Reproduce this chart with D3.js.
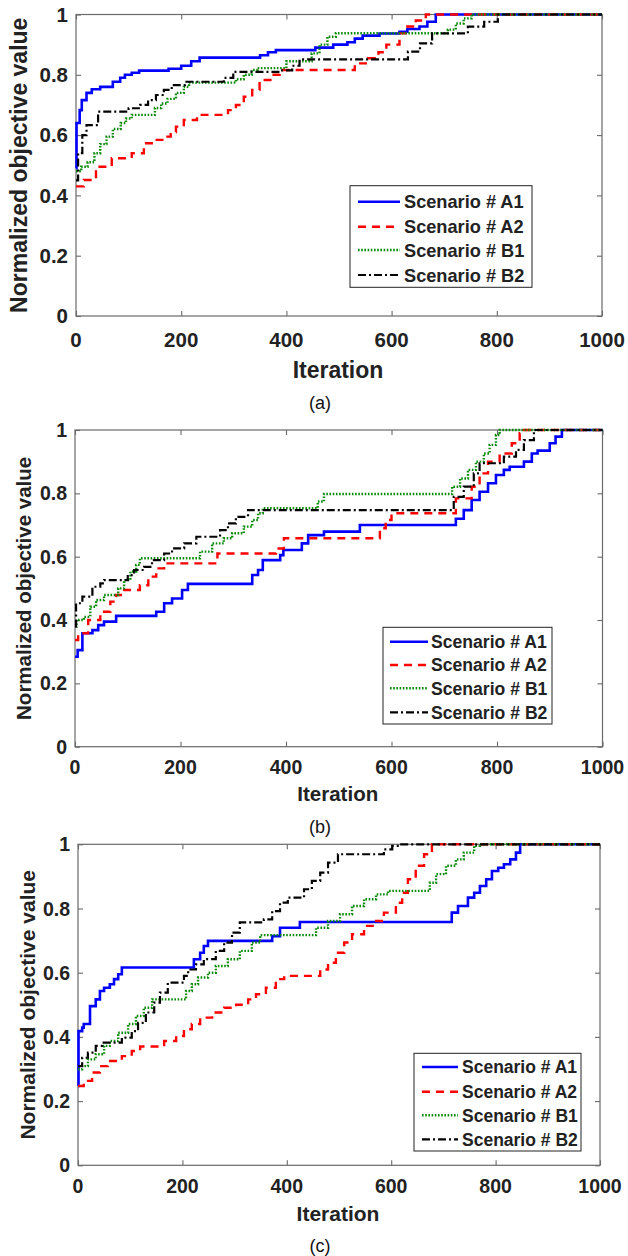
<!DOCTYPE html>
<html>
<head>
<meta charset="utf-8">
<script src="https://cdn.jsdelivr.net/npm/d3@7"></script>
<style>
  html, body { margin: 0; padding: 0; background: #fff; }
  svg { display: block; }
  text { font-family: "Liberation Sans", Arial, sans-serif; }
</style>
</head>
<body>
<svg id="fig" width="628" height="1256"></svg>
<script>
// ---- shared axis content ----
const xTicks = [0, 200, 400, 600, 800, 1000];
const yTicks = [0, 0.2, 0.4, 0.6, 0.8, 1];
const yTickLabels = ["0", "0.2", "0.4", "0.6", "0.8", "1"];
const seriesNames = ["Scenario # A1", "Scenario # A2", "Scenario # B1", "Scenario # B2"];
const captions = ["(a)", "(b)", "(c)"];

// ---- (a) best-so-far normalized objective, [iteration, value] ----
const a_A1 = [[0,0.49],[1,0.64],[7,0.683],[11,0.716],[20,0.74],[30,0.752],[46,0.76],[70,0.777],[84,0.79],[93,0.8],[106,0.807],[120,0.814],[176,0.82],[200,0.83],[219,0.845],[235,0.857],[350,0.865],[365,0.875],[380,0.882],[455,0.89],[489,0.9],[516,0.908],[530,0.92],[545,0.93],[577,0.937],[615,0.943],[630,0.952],[653,0.96],[668,0.976],[684,1.0],[1000,1.0]];
const a_A2 = [[0,0.43],[15,0.451],[38,0.495],[68,0.523],[106,0.54],[129,0.573],[144,0.584],[167,0.595],[180,0.61],[190,0.628],[205,0.65],[230,0.667],[289,0.683],[304,0.7],[319,0.727],[335,0.75],[349,0.783],[372,0.8],[387,0.816],[530,0.838],[555,0.855],[575,0.875],[590,0.9],[615,0.9375],[630,0.96],[646,0.98],[665,1.0],[1000,1.0]];
const a_B1 = [[0,0.48],[10,0.495],[22,0.51],[35,0.54],[46,0.57],[58,0.595],[70,0.62],[85,0.64],[95,0.655],[106,0.667],[150,0.69],[162,0.705],[174,0.72],[190,0.74],[205,0.76],[215,0.774],[304,0.785],[319,0.8],[334,0.816],[345,0.822],[400,0.845],[448,0.871],[463,0.9],[478,0.926],[494,0.938],[707,0.95],[722,0.97],[737,0.987],[752,1.0],[1000,1.0]];
const a_B2 = [[0,0.45],[4,0.54],[12,0.6],[20,0.633],[42,0.678],[100,0.689],[122,0.7],[137,0.716],[152,0.733],[167,0.75],[182,0.766],[207,0.777],[281,0.79],[299,0.81],[388,0.815],[411,0.83],[425,0.851],[631,0.877],[654,0.904],[677,0.9375],[745,0.96],[776,0.976],[802,1.0],[1000,1.0]];

// ---- (b) ----
const b_A1 = [[0,0.284],[5,0.305],[14,0.358],[33,0.368],[44,0.384],[55,0.395],[78,0.413],[154,0.426],[169,0.453],[184,0.468],[203,0.495],[214,0.514],[336,0.542],[347,0.558],[356,0.589],[389,0.605],[395,0.621],[430,0.642],[442,0.668],[472,0.679],[540,0.7],[722,0.72],[737,0.747],[752,0.779],[767,0.805],[783,0.832],[798,0.858],[813,0.874],[824,0.884],[851,0.9],[866,0.926],[877,0.935],[900,0.958],[911,0.979],[923,1.0],[1000,1.0]];
const b_A2 = [[0,0.337],[6,0.358],[25,0.4],[48,0.426],[67,0.458],[78,0.479],[93,0.495],[123,0.51],[139,0.537],[154,0.563],[169,0.579],[270,0.61],[381,0.626],[396,0.658],[578,0.69],[589,0.716],[600,0.737],[722,0.784],[752,0.821],[767,0.863],[783,0.9],[805,0.926],[828,0.958],[843,0.99],[847,1.0],[1000,1.0]];
const b_B1 = [[0,0.379],[3,0.4],[17,0.41],[29,0.442],[40,0.463],[55,0.479],[82,0.5],[93,0.526],[105,0.553],[116,0.574],[123,0.595],[237,0.616],[260,0.642],[282,0.658],[298,0.674],[320,0.695],[336,0.716],[347,0.737],[356,0.753],[460,0.774],[472,0.798],[715,0.821],[730,0.847],[745,0.874],[760,0.9],[775,0.926],[786,0.953],[798,0.984],[805,1.0],[1000,1.0]];
const b_B2 = [[0,0.38],[2,0.453],[14,0.474],[33,0.505],[48,0.516],[55,0.526],[100,0.542],[112,0.558],[131,0.568],[146,0.589],[169,0.61],[184,0.626],[207,0.642],[230,0.663],[275,0.684],[290,0.705],[305,0.726],[328,0.747],[718,0.789],[737,0.821],[756,0.863],[767,0.895],[813,0.916],[836,0.937],[851,0.968],[870,1.0],[1000,1.0]];

// ---- (c) ----
const c_A1 = [[0,0.247],[1,0.418],[8,0.429],[11,0.44],[23,0.496],[34,0.517],[42,0.543],[50,0.553],[61,0.564],[69,0.58],[77,0.595],[84,0.616],[222,0.642],[234,0.662],[241,0.683],[249,0.699],[372,0.714],[387,0.74],[425,0.758],[716,0.787],[728,0.808],[747,0.834],[759,0.849],[770,0.87],[782,0.891],[793,0.917],[805,0.927],[816,0.938],[828,0.953],[839,0.974],[847,1.0],[1000,1.0]];
const c_A2 = [[0,0.247],[11,0.263],[27,0.289],[42,0.309],[57,0.325],[84,0.34],[103,0.356],[119,0.37],[165,0.387],[188,0.403],[203,0.424],[218,0.44],[234,0.46],[257,0.476],[280,0.491],[303,0.5],[326,0.517],[341,0.533],[360,0.553],[379,0.58],[395,0.59],[464,0.61],[479,0.631],[494,0.662],[510,0.694],[525,0.72],[548,0.746],[571,0.761],[586,0.787],[609,0.818],[621,0.849],[632,0.891],[647,0.933],[663,0.969],[678,1.0],[1000,1.0]];
const c_B1 = [[0,0.299],[8,0.309],[19,0.33],[34,0.346],[50,0.372],[61,0.387],[77,0.413],[96,0.44],[111,0.465],[126,0.491],[142,0.517],[207,0.543],[218,0.564],[230,0.585],[249,0.6],[264,0.621],[287,0.642],[310,0.668],[333,0.694],[349,0.717],[456,0.74],[479,0.761],[502,0.782],[525,0.808],[548,0.829],[571,0.844],[594,0.855],[674,0.88],[686,0.907],[705,0.933],[724,0.953],[739,0.974],[759,0.995],[770,1.0],[1000,1.0]];
const c_B2 = [[0,0.309],[8,0.335],[19,0.351],[34,0.372],[46,0.382],[84,0.398],[103,0.418],[115,0.444],[130,0.476],[146,0.507],[157,0.538],[172,0.569],[203,0.59],[211,0.61],[226,0.626],[241,0.642],[264,0.668],[280,0.694],[295,0.725],[310,0.757],[356,0.766],[372,0.792],[387,0.818],[402,0.834],[433,0.86],[448,0.886],[464,0.912],[479,0.943],[498,0.969],[586,0.984],[602,0.995],[617,1.0],[1000,1.0]];

// line style per scenario (MATLAB-like: solid, dashed, dotted, dash-dot)
const styles = [
  { color: "#0000ff", width: 2.6, dash: null },
  { color: "#ff0000", width: 2.4, dash: "8,6" },
  { color: "#0a8a0a", width: 2.4, dash: "1.6,1.6" },
  { color: "#000000", width: 2.2, dash: "8,3,2,3" }
];

// panel layout (pixels)
const layouts = [
  { series: [a_A1, a_A2, a_B1, a_B2],
    plot: { l: 76, r: 602, t: 14.5, b: 316 },
    tickFont: 20.5, labelFont: 23, legendFont: 18.2,
    yLabelX: 27, xTickY: 347, xLabelY: 378, capY: 409,
    legend: { l: 350, r: 532, t: 185.7, b: 287.3, rows: [201.7, 226.7, 250, 275], lx1: 358, lx2: 400, tx: 404 } },
  { series: [b_A1, b_A2, b_B1, b_B2],
    plot: { l: 75, r: 602.5, t: 430, b: 746.7 },
    tickFont: 19.5, labelFont: 20.5, legendFont: 17.6,
    yLabelX: 31, xTickY: 773.5, xLabelY: 801, capY: 833,
    legend: { l: 383, r: 552, t: 627.3, b: 724, rows: [641.7, 665, 688.3, 712.3], lx1: 390, lx2: 428, tx: 431 } },
  { series: [c_A1, c_A2, c_B1, c_B2],
    plot: { l: 78, r: 600, t: 844.3, b: 1165.3 },
    tickFont: 19.5, labelFont: 21, legendFont: 17.5,
    yLabelX: 35, xTickY: 1193, xLabelY: 1221, capY: 1252,
    legend: { l: 414, r: 581, t: 1053.3, b: 1151, rows: [1067, 1091.7, 1115.3, 1139.3], lx1: 422, lx2: 458, tx: 462 } }
];

const svg = d3.select("#fig");
const axisColor = "#6a6a6a";
const textColor = "#222";
const tickLen = 5;

layouts.forEach((L, pi) => {
  const p = L.plot;
  const x = d3.scaleLinear().domain([0, 1000]).range([p.l, p.r]);
  const y = d3.scaleLinear().domain([0, 1]).range([p.b, p.t]);
  const g = svg.append("g");

  // white plot area + box
  g.append("rect").attr("x", p.l).attr("y", p.t).attr("width", p.r - p.l).attr("height", p.b - p.t)
    .attr("fill", "#fff").attr("stroke", axisColor).attr("stroke-width", 1.2);

  // inward ticks on all four sides
  const bottomAxis = d3.axisBottom(x).tickValues(xTicks).tickSize(-tickLen).tickFormat("");
  const topAxis = d3.axisTop(x).tickValues(xTicks).tickSize(-tickLen).tickFormat("");
  const leftAxis = d3.axisLeft(y).tickValues(yTicks).tickSize(-tickLen).tickFormat("");
  const rightAxis = d3.axisRight(y).tickValues(yTicks).tickSize(-tickLen).tickFormat("");
  [[bottomAxis, `translate(0,${p.b})`], [topAxis, `translate(0,${p.t})`],
   [leftAxis, `translate(${p.l},0)`], [rightAxis, `translate(${p.r},0)`]].forEach(([ax, tr]) => {
    const a = g.append("g").attr("transform", tr).call(ax);
    a.select(".domain").remove();
    a.selectAll(".tick line").attr("stroke", axisColor).attr("stroke-width", 1.1);
  });

  // tick labels
  g.append("g").selectAll("text").data(xTicks).join("text")
    .attr("x", d => x(d)).attr("y", L.xTickY)
    .attr("text-anchor", "middle").attr("font-size", L.tickFont).attr("font-weight", "bold")
    .attr("fill", textColor).text(d => d);
  g.append("g").selectAll("text").data(yTicks).join("text")
    .attr("x", p.l - 8).attr("y", d => y(d) + L.tickFont * 0.36)
    .attr("text-anchor", "end").attr("font-size", L.tickFont).attr("font-weight", "bold")
    .attr("fill", textColor).text((d, i) => yTickLabels[i]);

  // axis titles
  g.append("text").attr("x", (p.l + p.r) / 2 - 1).attr("y", L.xLabelY)
    .attr("text-anchor", "middle").attr("font-size", L.labelFont).attr("font-weight", "bold")
    .attr("fill", textColor).text("Iteration");
  g.append("text")
    .attr("transform", `translate(${L.yLabelX},${(p.t + p.b) / 2}) rotate(-90)`)
    .attr("text-anchor", "middle").attr("font-size", L.labelFont).attr("font-weight", "bold")
    .attr("fill", textColor).text("Normalized objective value");

  // convergence curves
  const line = d3.line().x(d => x(d[0])).y(d => y(d[1])).curve(d3.curveStepAfter);
  L.series.forEach((s, si) => {
    const st = styles[si];
    g.append("path").datum(s).attr("d", line)
      .attr("fill", "none").attr("stroke", st.color).attr("stroke-width", st.width)
      .attr("stroke-dasharray", st.dash).attr("stroke-linejoin", "miter");
  });

  // legend
  const lg = L.legend;
  g.append("rect").attr("x", lg.l).attr("y", lg.t).attr("width", lg.r - lg.l).attr("height", lg.b - lg.t)
    .attr("fill", "#fff").attr("stroke", "#222").attr("stroke-width", 1);
  seriesNames.forEach((name, si) => {
    const st = styles[si];
    const cy = lg.rows[si];
    g.append("line").attr("x1", lg.lx1).attr("x2", lg.lx2).attr("y1", cy).attr("y2", cy)
      .attr("stroke", st.color).attr("stroke-width", st.width).attr("stroke-dasharray", st.dash);
    g.append("text").attr("x", lg.tx).attr("y", cy + L.legendFont * 0.36)
      .attr("font-size", L.legendFont).attr("font-weight", "bold").attr("fill", textColor).text(name);
  });

  // caption
  g.append("text").attr("x", 320).attr("y", L.capY).attr("text-anchor", "middle")
    .attr("font-size", 18).attr("fill", "#111").text(captions[pi]);
});
</script>
</body>
</html>
